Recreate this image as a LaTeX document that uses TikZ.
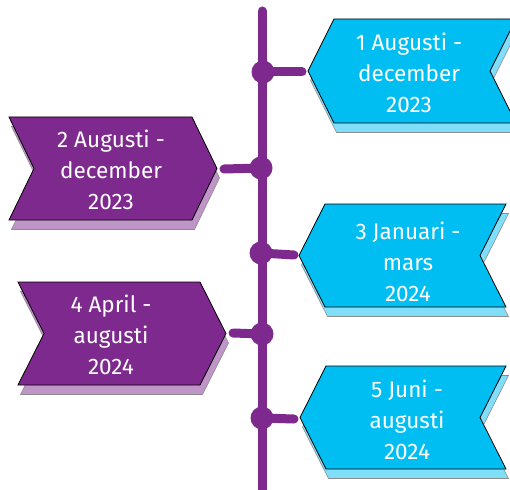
\documentclass[tikz,border=0pt]{standalone}
\usepackage{fontspec}
\setmainfont{Fira Sans}
\definecolor{tlpurple}{RGB}{126,41,141}
\definecolor{tlpurplelight}{RGB}{191,148,199}
\definecolor{tlblue}{RGB}{0,190,242}
\definecolor{tlbluelight}{RGB}{128,222,248}
\tikzset{
  spine/.style={draw=tlpurple,line width=9pt,line cap=round},
  stub/.style={draw=tlpurple,line width=9pt,line cap=round},
  dot/.style={circle,fill=tlpurple,minimum size=23pt,inner sep=0pt},
  shadowshape/.style={draw=black!45,line width=0.6pt},
  mainshape/.style={draw=black,line width=0.8pt,line join=miter},
  label/.style={text=white,align=center,font=\fontsize{22.5}{31}\selectfont,inner sep=0pt}
}
% left-pointing chevron: tip x, top y, bottom y, right x, depth
\newcommand\leftchev[6]{%
  \path[#6] (#1,{(#2+#3)/2}) -- ({#1+#5},#2) -- (#4,#2) -- ({#4-#5},{(#2+#3)/2}) -- (#4,#3) -- ({#1+#5},#3) -- cycle;}
% right-pointing chevron: left x, top y, bottom y, point x, depth
\newcommand\rightchev[6]{%
  \path[#6] (#1,#2) -- ({#4-#5},#2) -- (#4,{(#2+#3)/2}) -- ({#4-#5},#3) -- (#1,#3) -- ({#1+#5},{(#2+#3)/2}) -- cycle;}
\begin{document}
\begin{tikzpicture}[x=1pt,y=-1pt]
\useasboundingbox (0,0) rectangle (510,489);
\clip (0,0) rectangle (510,489);
% spine
\coordinate (spinetop) at (262,11);
\coordinate (spinebot) at (262,500);
\draw[spine] (spinetop) -- (spinebot);
% dots
\node[dot] (d1) at (263,72) {};
\node[dot] (d2) at (261,168) {};
\node[dot] (d3) at (261,253) {};
\node[dot] (d4) at (262,334) {};
\node[dot] (d5) at (262,418) {};
% stub ends
\coordinate (s1) at (302,72);
\coordinate (s2) at (224,169);
\coordinate (s3) at (294,255);
\coordinate (s4) at (233,333);
\coordinate (s5) at (294,419);
\draw[stub] (d1.center) -- (s1);
\draw[stub] (s2) -- (d2.center);
\draw[stub] (d3.center) -- (s3);
\draw[stub] (s4) -- (d4.center);
\draw[stub] (d5.center) -- (s5);
% boxes (shadow then main)
\begin{scope}[shift={(2.5,9.5)}]
\leftchev{308}{19}{123}{516}{26}{shadowshape,fill=tlbluelight}
\leftchev{299}{204}{307}{506}{26}{shadowshape,fill=tlbluelight}
\leftchev{300}{366}{469}{506}{26}{shadowshape,fill=tlbluelight}
\rightchev{9}{117}{220}{217}{25}{shadowshape,fill=tlpurplelight}
\rightchev{18}{282}{385}{226}{26}{shadowshape,fill=tlpurplelight}
\end{scope}
\leftchev{308}{19}{123}{516}{26}{mainshape,fill=tlblue}
\leftchev{299}{204}{307}{506}{26}{mainshape,fill=tlblue}
\leftchev{300}{366}{469}{506}{26}{mainshape,fill=tlblue}
\rightchev{9}{117}{220}{217}{25}{mainshape,fill=tlpurple}
\rightchev{18}{282}{385}{226}{26}{mainshape,fill=tlpurple}
% texts
\node[label] (t1) at (409,73) {1 Augusti -\\december\\2023};
\node[label] (t2) at (111,170) {2 Augusti -\\december\\2023};
\node[label] (t3) at (408,262) {3 Januari -\\mars\\2024};
\node[label] (t4) at (111,335) {4 April -\\augusti\\2024};
\node[label] (t5) at (407,420) {5 Juni -\\augusti\\2024};
\end{tikzpicture}
\end{document}
